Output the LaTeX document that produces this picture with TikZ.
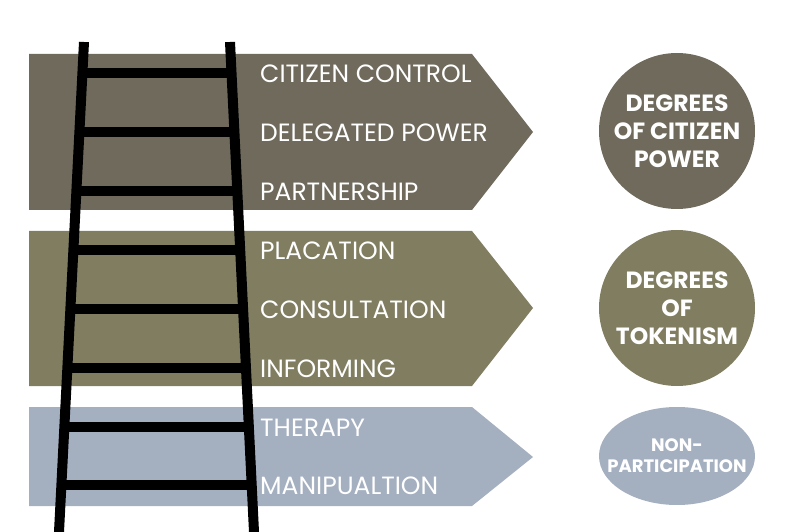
\documentclass[tikz,border=0pt]{standalone}
\usepackage{fontspec}
\setmainfont{Poppins}
\usetikzlibrary{calc,shapes.geometric}
\definecolor{powerc}{RGB}{111,106,92}
\definecolor{tokenc}{RGB}{128,125,96}
\definecolor{nonc}{RGB}{164,175,192}
\tikzset{
  band/.style={draw=none},
  rung/.style={line width=10pt},
  rail/.style={line width=10pt},
  lbl/.style={text=white, anchor=west, inner sep=0pt, font=\fontsize{25}{27}\selectfont},
  badge/.style={circle, minimum size=156pt, inner sep=-6pt, text=white, align=center, font=\bfseries\fontsize{23.5}{28}\selectfont},
  badgeo/.style={ellipse, minimum width=156pt, minimum height=98pt, inner xsep=-18pt, inner ysep=0pt, text=white, align=center, font=\bfseries\fontsize{18}{21}\selectfont},
}
\begin{document}
\begin{tikzpicture}[x=1pt,y=-1pt]
\useasboundingbox (0,0) rectangle (788,532);
\clip (0,0) rectangle (788,532);
% bands
\fill[powerc] (29,54) -- (472,54) -- (533,132) -- (472,210) -- (29,210) -- cycle;
\fill[tokenc] (29,231) -- (472,231) -- (533,308) -- (472,386) -- (29,386) -- cycle;
\fill[nonc] (29,407) -- (472,407) -- (533,457) -- (472,506) -- (29,506) -- cycle;
% badges
\node[badge, fill=powerc] (cp) at (677,131) {DEGREES\\OF CITIZEN\\POWER};
\node[badge, fill=tokenc] (tk) at (677,308) {DEGREES\\OF\\TOKENISM};
\node[badgeo, fill=nonc] (np) at (677,456) {NON-\\PARTICIPATION};
% ladder
\coordinate (lt) at (84,42);
\coordinate (lb) at (59,532);
\coordinate (rt) at (230,42);
\coordinate (rb) at (254,532);
\foreach \y in {73,132,191,250,309,368,427,485}{
  \draw[rung] ($(lt)!{(\y-42)/490}!(lb)$) -- ($(rt)!{(\y-42)/490}!(rb)$);
}
\draw[rail] (lt) -- ($(lt)!1.05!(lb)$);
\draw[rail] (rt) -- ($(rt)!1.05!(rb)$);
% labels
\node[lbl] (l1) at (260,74) {CITIZEN CONTROL};
\node[lbl] (l2) at (260,133) {DELEGATED POWER};
\node[lbl] (l3) at (260,192) {PARTNERSHIP};
\node[lbl] (l4) at (260,251) {PLACATION};
\node[lbl] (l5) at (260,310) {CONSULTATION};
\node[lbl] (l6) at (260,369) {INFORMING};
\node[lbl] (l7) at (260,428) {THERAPY};
\node[lbl] (l8) at (260,486) {MANIPUALTION};
\end{tikzpicture}
\end{document}
